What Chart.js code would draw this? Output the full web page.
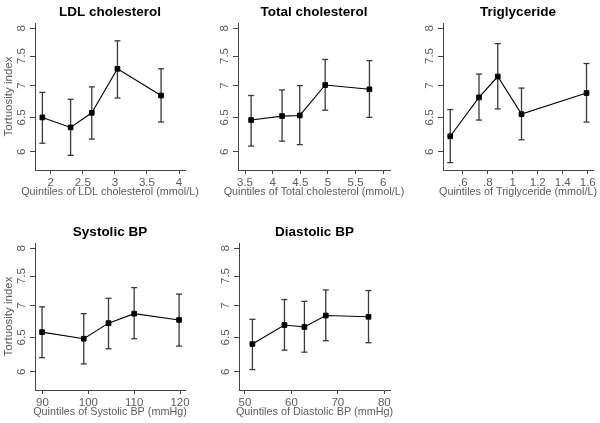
<!DOCTYPE html>
<html><head><meta charset="utf-8">
<script src="https://cdn.jsdelivr.net/npm/chart.js@4/dist/chart.umd.min.js"></script>
<style>
html,body{margin:0;padding:0;background:#fff;overflow:hidden;width:600px;height:423px}
#wrap{position:relative;width:600px;height:423px;overflow:hidden;background:#fff}
#wrap canvas{position:absolute}
</style></head><body><div id="wrap"></div>
<script>
// ---- data ----
const yTicks = [6, 6.5, 7, 7.5, 8];
const yTickLabels = ['6', '6.5', '7', '7.5', '8'];

const ldlX  = [1.87, 2.31, 2.64, 3.04, 3.72];
const ldlY  = [6.50, 6.35, 6.57, 7.28, 6.84];
const ldlLo = [6.12, 5.95, 6.18, 6.80, 6.43];
const ldlHi = [6.89, 6.78, 6.98, 7.77, 7.28];
const ldlTicks = [2, 2.5, 3, 3.5, 4];
const ldlTickLabels = ['2', '2.5', '3', '3.5', '4'];

const tcX  = [3.61, 4.17, 4.49, 4.95, 5.75];
const tcY  = [6.46, 6.52, 6.53, 7.01, 6.94];
const tcLo = [6.08, 6.15, 6.10, 6.61, 6.50];
const tcHi = [6.84, 6.93, 7.00, 7.44, 7.42];
const tcTicks = [3.5, 4, 4.5, 5, 5.5, 6];
const tcTickLabels = ['3.5', '4', '4.5', '5', '5.5', '6'];

const tgX  = [0.50, 0.73, 0.88, 1.07, 1.59];
const tgY  = [6.22, 6.81, 7.15, 6.55, 6.88];
const tgLo = [5.85, 6.46, 6.63, 6.17, 6.43];
const tgHi = [6.62, 7.19, 7.72, 6.96, 7.37];
const tgTicks = [0.6, 0.8, 1, 1.2, 1.4, 1.6];
const tgTickLabels = ['.6', '.8', '1', '1.2', '1.4', '1.6'];

const sbpX  = [89.9, 99.0, 104.4, 110.0, 119.8];
const sbpY  = [6.58, 6.48, 6.72, 6.87, 6.77];
const sbpLo = [6.20, 6.11, 6.33, 6.48, 6.37];
const sbpHi = [6.98, 6.87, 7.12, 7.30, 7.19];
const sbpTicks = [90, 100, 110, 120];
const sbpTickLabels = ['90', '100', '110', '120'];

const dbpX  = [51.6, 58.5, 62.8, 67.4, 76.6];
const dbpY  = [6.40, 6.69, 6.66, 6.84, 6.82];
const dbpLo = [6.03, 6.31, 6.28, 6.45, 6.42];
const dbpHi = [6.78, 7.10, 7.07, 7.26, 7.25];
const dbpTicks = [50, 60, 70, 80];
const dbpTickLabels = ['50', '60', '70', '80'];

const panelTitles = ['LDL cholesterol', 'Total cholesterol', 'Triglyceride', 'Systolic BP', 'Diastolic BP'];
const xTitles = ['Quintiles of LDL cholesterol (mmol/L)', 'Quintiles of Total cholesterol (mmol/L)',
  'Quintiles of Triglyceride (mmol/L)', 'Quintiles of Systolic BP (mmHg)', 'Quintiles of Diastolic BP (mmHg)'];
const yTitle = 'Tortuosity index';

// ---- layout / styling ----
const FONT = "'Liberation Sans', Arial, sans-serif";
const AX = '#444444';
const TXT = '#5c5c5c';

const panels = [
  {x: ldlX, y: ldlY, lo: ldlLo, hi: ldlHi, t: ldlTicks, tl: ldlTickLabels, min: 1.755, max: 4.093, left: 0,   top: 0,   w: 220, yt: true},
  {x: tcX,  y: tcY,  lo: tcLo,  hi: tcHi,  t: tcTicks,  tl: tcTickLabels,  min: 3.373, max: 6.122, left: 203, top: 0,   w: 222, yt: false},
  {x: tgX,  y: tgY,  lo: tgLo,  hi: tgHi,  t: tgTicks,  tl: tgTickLabels,  min: 0.442, max: 1.642, left: 408, top: 0,   w: 220, yt: false},
  {x: sbpX, y: sbpY, lo: sbpLo, hi: sbpHi, t: sbpTicks, tl: sbpTickLabels, min: 88.36, max: 121.09, left: 0,  top: 220, w: 220, yt: true},
  {x: dbpX, y: dbpY, lo: dbpLo, hi: dbpHi, t: dbpTicks, tl: dbpTickLabels, min: 48.71, max: 81.23, left: 204, top: 220, w: 221, yt: false}
];

const wrap = document.getElementById('wrap');
panels.forEach((p, k) => {
  const c = document.createElement('canvas');
  c.width = p.w; c.height = 200;
  c.style.left = p.left + 'px'; c.style.top = p.top + 'px';
  c.style.width = p.w + 'px'; c.style.height = '200px';
  wrap.appendChild(c);

  const main = p.x.map((xv, i) => ({x: xv, y: p.y[i]}));
  const err = [];
  p.x.forEach((xv, i) => { err.push({x: xv, y: p.lo[i]}, {x: xv, y: p.hi[i]}, {x: xv, y: null}); });

  new Chart(c.getContext('2d'), {
    type: 'line',
    data: {datasets: [
      {data: main, borderColor: '#000', borderWidth: 1.1, pointStyle: 'rect', pointRadius: 3.3,
       pointBackgroundColor: '#000', pointBorderColor: '#000', pointBorderWidth: 1, tension: 0, fill: false},
      {data: err, borderColor: '#3a3a3a', borderWidth: 1.3, pointStyle: 'line', pointRadius: 3,
       pointBorderColor: '#3a3a3a', pointBackgroundColor: '#3a3a3a', pointBorderWidth: 1.3, spanGaps: false, fill: false}
    ]},
    options: {
      responsive: false, animation: false, events: [], devicePixelRatio: 1,
      layout: {padding: 0},
      plugins: {
        legend: {display: false}, tooltip: {enabled: false},
        title: {display: true, text: panelTitles[k], color: '#000',
          font: {family: FONT, size: 13.5, weight: 'bold'}, padding: {top: 4, bottom: 2.8}},
        subtitle: {display: true, position: 'bottom', text: xTitles[k], color: TXT,
          font: {family: FONT, size: 10.8, weight: 'normal'}, padding: {top: -2.1, bottom: 1.14}}
      },
      scales: {
        x: {
          type: 'linear', min: p.min, max: p.max, bounds: 'data',
          afterBuildTicks: s => { s.ticks = p.t.map(v => ({value: v})); },
          afterFit: s => { s.height = 18; },
          ticks: {autoSkip: false, maxRotation: 0, minRotation: 0, padding: 2, color: TXT,
            font: {family: FONT, size: 11.5}, callback: (v, i) => p.tl[i]},
          grid: {display: true, drawOnChartArea: false, drawTicks: true, tickLength: 4, tickColor: AX, tickWidth: 1},
          border: {display: true, color: AX, width: 1}
        },
        y: {
          type: 'logarithmic', min: 5.75, max: 8.1, bounds: 'data',
          afterBuildTicks: s => { s.ticks = yTicks.map(v => ({value: v})); },
          afterFit: s => { s.width = 35; },
          ticks: {minRotation: 90, maxRotation: 90, crossAlign: 'center', padding: 0, color: TXT,
            font: {family: FONT, size: 11.5}, callback: (v, i) => yTickLabels[i]},
          grid: {display: true, drawOnChartArea: false, drawTicks: true, tickLength: 5, tickColor: AX, tickWidth: 1},
          border: {display: true, color: AX, width: 1},
          title: {display: p.yt, text: yTitle, color: TXT, font: {family: FONT, size: 11.5}, padding: {top: 2.4, bottom: 0}}
        },
        yR: {
          type: 'linear', position: 'right', display: true,
          grid: {display: false}, ticks: {display: false}, border: {display: false},
          afterFit: s => { s.width = 35; }
        }
      }
    }
  });
});
</script>
</body></html>
